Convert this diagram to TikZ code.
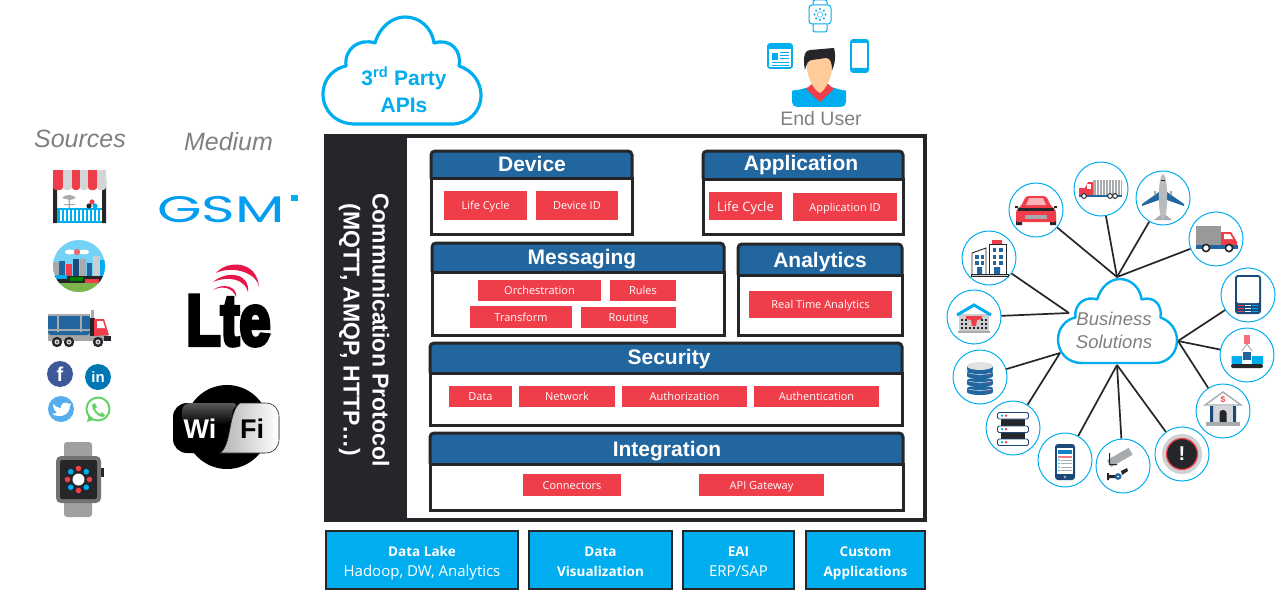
\documentclass[tikz,border=0pt]{standalone}
\usepackage{fontspec}
\setmainfont{Liberation Sans}
\newfontfamily\osans{Open Sans}
\newfontfamily\popp{Poppins}
\definecolor{cy}{HTML}{00AEEF}
\definecolor{fr}{HTML}{25262A}
\definecolor{hb}{HTML}{22669F}
\definecolor{rd}{HTML}{EF3E4A}
\definecolor{nv}{HTML}{1B4A7A}
\definecolor{gt}{HTML}{808080}
\definecolor{lg}{HTML}{A8ABAE}
\definecolor{fbc}{HTML}{3B5998}
\definecolor{lic}{HTML}{0077B5}
\definecolor{twc}{HTML}{55ACEE}
\definecolor{wac}{HTML}{67D26B}
\definecolor{grc}{HTML}{7DB548}
\definecolor{ltr}{HTML}{E8174A}
\newcommand\fs[1]{\fontsize{#1}{#1}\selectfont}
\tikzset{
 panelline/.style={draw=fr,line width=3pt},
 headtext/.style={text=white,font=\fs{21}\bfseries,inner sep=0,text height=15pt,text depth=0pt},
 redbox/.style={fill=rd,text=white,inner sep=0,font=\osans\fs{11},text height=8pt,text depth=0pt},
 botbox/.style={fill=cy,draw=fr,line width=2.5pt,text=white,align=center,inner sep=0,font=\osans\fontsize{15}{20}\selectfont},
 bizc/.style={circle,draw=cy,fill=white,line width=1pt,minimum size=54pt,inner sep=0},
 spoke/.style={draw=fr,line width=1.7pt},
 cloudl/.style={draw=cy,fill=white,line join=round},
 gtext/.style={text=gt,inner sep=0},
}
% name x1 y1 x2 y2 ysplit title textx texty
\newcommand\panel[9]{%
 \fill[white] (#2,#3) rectangle (#4,#5);
 \fill[hb,rounded corners=4pt] (#2,#6) -- (#2,#3) -- (#4,#3) -- (#4,#6) -- cycle;
 \fill[hb] (#2,{#6-6}) rectangle (#4,#6);
 \draw[panelline,rounded corners=4pt] (#2,#6) -- (#2,#3) -- (#4,#3) -- (#4,#6);
 \draw[panelline] (#2,#6) -- (#2,#5) -- (#4,#5) -- (#4,#6) -- cycle;
 \node[headtext] (#1) at (#8,#9) {#7};}
\newcommand\rbox[7][]{%
 \node[redbox,#1,minimum width={(#5-#3)*1pt},minimum height={(#6-#4)*1pt}] (#2) at ({(#3+#5)/2},{(#4+#6)/2}) {#7};}
\newcommand\bbox[6]{%
 \node[botbox,minimum width={(#4-#2)*1pt},minimum height={(#5-#3)*1pt}] (#1) at ({(#2+#4)/2},{(#3+#5)/2}) {#6};}
\newcommand\bt[1]{\rule{0pt}{17pt}{\fontsize{13.5}{20}\selectfont\bfseries #1}}
\newcommand\bb[1]{#1\rule[-5pt]{0pt}{5pt}}
\newcommand\cloudp{(355,124) .. controls (335,124) and (323,110) .. (323,94)
 .. controls (323,78) and (335,68) .. (346,66)
 .. controls (344,48) and (360,38) .. (375,43)
 .. controls (380,26) and (393,17) .. (405,17)
 .. controls (420,17) and (432,28) .. (434,43)
 .. controls (450,38) and (462,50) .. (459,66)
 .. controls (472,70) and (481,82) .. (481,95)
 .. controls (481,112) and (468,124) .. (452,124) -- cycle}
\begin{document}
\begin{tikzpicture}[x=1pt,y=-1pt]
\useasboundingbox (0,0) rectangle (1276,591);
\fill[white] (0,0) rectangle (1276,591);
%% titles
\node[gtext,font=\itshape\fs{25}] (srct) at (80,139) {Sources};
\node[gtext,font=\itshape\fs{25}] (medt) at (228.5,142) {Medium};
%% shop
\fill[fr] (53,178) rectangle (57,223) (102,178) rectangle (106,223);
\fill[cy] (57,208) rectangle (102,223);
\foreach \x in {60,64,...,100}{\fill[white] (\x,210) rectangle (\x+1.6,221);}
\foreach \a/\b/\c in {53/63/rd,63/72/lg!50,72/80/rd,80/88/lg!50,88/97/rd,97/106/lg!50}{
 \fill[\c,rounded corners=3pt] (\a,170) rectangle (\b,190);\fill[\c] (\a,170) rectangle (\b,178);}
\fill[lg] (62,198) .. controls (65,194) and (73,194) .. (76,198) -- (70,200) -- cycle;
\fill[lg] (68.5,200) rectangle (70,208) (64,204) rectangle (75,205);
\fill[rd] (92,202) circle (2.6);\fill[fr] (89,206) circle (2.6);\fill[cy] (95,206) circle (2.6);
%% city
\begin{scope}
\clip (79,266) circle (26);
\fill[cy!55] (53,240) rectangle (106,292);
\fill[white] (70,252) ellipse (5 and 2.5) (84,252) ellipse (5 and 2.5);
\fill[rd!80] (77,252) circle (3);
\foreach \a/\b/\t/\c in {53/59/262/lg,59/65/261/hb,66/72/264/rd,73/79/259/nv,80/86/259/lg,87/92/263/hb,93/100/256/lg!60,100/106/260/cy}{\fill[\c] (\a,\t) rectangle (\b,276);}
\fill[fr] (53,276) rectangle (106,284);
\fill[grc] (53,283) rectangle (106,293);
\fill[cy] (56,275) rectangle (67,279);\fill[green!50!black] (70,277) rectangle (83,281);\fill[rd] (85,279) rectangle (99,283);
\end{scope}
%% source truck
\fill[gray!70] (48,333) rectangle (108,341);
\fill[hb,rounded corners=3pt] (48,314) rectangle (90,335);
\draw[lg,line width=1.4pt] (48,315) -- (90,315) (48,330) -- (90,330) (58,314) -- (58,332) (81,314) -- (81,332);
\fill[fr] (90,318) rectangle (95,336);
\fill[rd] (94,319) -- (104,319) -- (109,335) -- (94,336) -- cycle;
\fill[white] (97,321) -- (103,321) -- (105,328) -- (97,328) -- cycle;
\fill[lg] (91,310) rectangle (93.5,318);
\fill[fr] (104,336) rectangle (111,341);
\foreach \x in {57,69,98}{\fill[fr] (\x,342) circle (5.2);\fill[lg!50] (\x,342) circle (2.6);\fill[fr] (\x,342) circle (1);}
%% social
\node[circle,fill=fbc,minimum size=26pt,inner sep=0,text=white,font=\bfseries\fs{20}] (fb) at (60,374) {f};
\node[circle,fill=lic,minimum size=26pt,inner sep=0,text=white,font=\bfseries\fs{15}] (li) at (98,377) {in};
\node[circle,fill=twc,minimum size=26pt,inner sep=0] (tw) at (61,409) {};
\fill[white] (53,404) .. controls (56,407) and (59,408) .. (61,408) .. controls (60,403) and (66,401) .. (69,404) -- (71,403) -- (70,406) .. controls (70,412) and (65,417) .. (58,416) .. controls (56,416) and (54,415) .. (52,414) .. controls (54,414) and (56,413) .. (57,412) .. controls (54,411) and (53,407) .. (53,404) -- cycle;
\node[circle,draw=wac,fill=white,line width=2pt,minimum size=23pt,inner sep=0] (wa) at (98,409) {};
\fill[wac] (87,422) -- (89,414) -- (93,420) -- cycle;
\fill[wac] (92,405) -- (95,403) -- (97,407) -- (95,409) .. controls (96,411) and (98,413) .. (100,414) -- (102,412) -- (105,415) -- (103,417) .. controls (98,417) and (92,411) .. (92,405) -- cycle;
%% watch
\fill[gray!75,rounded corners=3pt] (64,442) rectangle (92,517);
\fill[fr] (100,468) rectangle (104,477);
\fill[gray!90!black,rounded corners=5pt] (56,456) rectangle (101,503);
\fill[fr,rounded corners=2pt] (60,460) rectangle (97,499);
\foreach \a/\c in {0/rd,45/cy,90/rd,135/cy,180/rd,225/cy,270/rd,315/cy}{\fill[\c] (78.5,479.5) ++(\a:11) circle (2.8);}
\fill[white] (78.5,479.5) circle (6);
%% GSM
\node[text=cy!90!blue,inner sep=0] (gsm) at (221,210) {\scalebox{1.55}[1]{\popp\fs{37}GSM}};
\fill[cy] (291,195) rectangle (298,201);
%% LTE
\fill[ltr] (216,273) .. controls (227,260) and (257,260) .. (259,287) .. controls (257,273) and (233,265) .. (216,273) -- cycle;
\fill[ltr] (213,282) .. controls (227,270) and (250,273) .. (248,292) .. controls (245,280) and (230,275) .. (213,282) -- cycle;
\fill[ltr] (213,290) .. controls (223,282) and (238,287) .. (236,297) .. controls (233,288) and (223,285) .. (213,290) -- cycle;
\node[inner sep=0,anchor=base] (lte) at (228.5,345) {\scalebox{0.78}[1]{\fontspec{Liberation Sans}[FakeBold=6]\fs{72}\bfseries Lte}};
%% WiFi
\fill[black] (227,427) circle (42);
\fill[black,rounded corners=14pt] (173,403) rectangle (279,453);
\shade[top color=black!65,bottom color=black,rounded corners=8pt] (182,403) -- (240,403) .. controls (232,410) and (232,418) .. (230,425) -- (182,425) -- cycle;
\shade[left color=gray!60,right color=white,draw=fr,line width=.6pt] (240,403) -- (265,403) .. controls (274,403) and (279,409) .. (279,417) -- (279,439) .. controls (279,447) and (274,453) .. (265,453) -- (220,453) .. controls (232,445) and (228,412) .. (240,403) -- cycle;
\node[text=white,inner sep=0,font=\bfseries\fs{27}] (wi) at (200,429) {Wi};
\node[text=black,inner sep=0,font=\bfseries\fs{27}] (fi) at (252,429) {Fi};
%% 3rd party cloud
\draw[cloudl,line width=3.2pt] \cloudp;
\node[text=cy,align=center,inner sep=0,font=\bfseries\fontsize{21}{27}\selectfont] (api) at (404,90) {3\textsuperscript{rd} Party\\APIs};
%% end user
\begin{scope}
\draw[cy,line width=1pt,rounded corners=2pt,fill=white] (813,0) rectangle (827,32);
\draw[cy,line width=1pt,rounded corners=3pt,fill=white] (809,5) rectangle (831,24);
\foreach \a in {0,45,...,315}{\fill[cy] (820,14.5) ++(\a:5.5) circle (1.2);}
\draw[cy] (820,14.5) circle (2.8);
\draw[cy,line width=1.6pt,rounded corners=2pt] (768,44) rectangle (792,68);
\fill[cy] (768,44) rectangle (792,49);
\fill[cy] (772,53) rectangle (778,60);
\draw[cy,line width=1pt] (780,53) -- (789,53) (780,56) -- (789,56) (780,59) -- (789,59) (772,63) -- (789,63) (772,65.5) -- (789,65.5);
\draw[cy,line width=1.6pt,rounded corners=2pt] (851,40) rectangle (868,72);
\fill[cy] (851,40) rectangle (868,43) (851,68) rectangle (868,72);
\end{scope}
\fill[cy,rounded corners=5pt] (792,107) -- (792,96) .. controls (792,90) and (800,90) .. (807,87) -- (833,87) .. controls (840,90) and (846,90) .. (846,96) -- (846,107) -- cycle;
\fill[rd] (806,89) -- (812,84) -- (828,84) -- (834,89) -- (820,102) -- cycle;
\fill[orange!40!white] (806,60) .. controls (806,50) and (833,50) .. (833,60) .. controls (833,75) and (826,90) .. (820,93) .. controls (813,90) and (806,75) .. (806,60) -- cycle;
\fill[fr] (805,70) .. controls (802,55) and (806,50) .. (810,50) -- (834,48) .. controls (836,55) and (835,65) .. (832,70) .. controls (832,62) and (830,58) .. (826,58) -- (812,60) .. controls (808,60) and (806,65) .. (805,70) -- cycle;
\node[gtext,font=\fs{19.5}] (eu) at (821,119) {End User};
%% main frame
\fill[fr] (324,134) rectangle (927,522);
\fill[white] (407,138) rectangle (923,518);
\node[rotate=-90,text=white,align=center,inner sep=0,font=\bfseries\fontsize{23}{29}\selectfont] (cp) at (364,330) {Communication Protocol\\(MQTT, AMQP, HTTP…)};
\panel{dev}{431}{151}{632}{234}{178}{Device}{532}{164}
\rbox{dl}{444}{191}{527}{220}{Life Cycle}
\rbox{di}{536}{191}{618}{220}{Device ID}
\panel{app}{703}{151}{903}{234}{179}{Application}{801}{163}
\rbox[font=\osans\fs{13},text height=10pt]{al}{709}{192}{782}{220}{Life Cycle}
\rbox{ai}{793}{193}{897}{221}{Application ID}
\panel{msg}{432}{243}{724}{335}{272}{Messaging}{582}{257}
\rbox{or}{478}{280}{601}{301}{Orchestration}
\rbox{ru}{610}{280}{676}{301}{Rules}
\rbox{tr}{470}{306}{572}{328}{Transform}
\rbox{ro}{581}{307}{676}{328}{Routing}
\panel{ana}{738}{244}{902}{335}{275}{Analytics}{820}{260}
\rbox{rt}{749}{291}{892}{318}{Real Time Analytics}
\panel{sec}{430}{343}{902}{425}{373}{Security}{669}{357}
\rbox{sd}{449}{386}{512}{407}{Data}
\rbox{sn}{519}{386}{615}{407}{Network}
\rbox{sa}{622}{386}{747}{407}{Authorization}
\rbox{su}{754}{386}{879}{407}{Authentication}
\panel{int}{430}{433}{903}{510}{464}{Integration}{667}{449}
\rbox{ic}{523}{474}{621}{496}{Connectors}
\rbox{ia}{699}{474}{824}{496}{API Gateway}
%% bottom boxes
\bbox{b1}{326}{531}{518}{589}{\bt{Data Lake}\\\bb{Hadoop, DW, Analytics}}
\bbox{b2}{529}{531}{672}{589}{\bt{Data}\\\bb{\fontsize{13.5}{20}\selectfont\bfseries Visualization}}
\bbox{b3}{683}{531}{794}{589}{\bt{EAI}\\\bb{ERP/SAP}}
\bbox{b4}{806}{531}{925}{589}{\bt{Custom}\\\bb{\fontsize{13.5}{20}\selectfont\bfseries Applications}}
%% business solutions
\coordinate (ht) at (1117,277);
\coordinate (hb1) at (1117,365);
\coordinate (hl) at (1069,313);
\coordinate (hl2) at (1060,353);
\coordinate (hr) at (1178,341);
\foreach \n/\x/\y in {c1/1036/210,c2/1101/189,c3/1163/198,c4/1216/239,c5/1248/295,c6/1247/355,c7/1223/411,c8/1182/454,c9/1123/466,c10/1065/460,c11/1013/428,c12/980/377,c13/974/317,c14/989/258}{
 \node[bizc] (\n) at (\x,\y) {};}
\foreach \n in {c1,c2,c3,c4}{\draw[spoke] (\n) -- (ht);}
\foreach \n in {c13,c14}{\draw[spoke] (\n) -- (hl);}
\foreach \n in {c11,c12}{\draw[spoke] (\n) -- (hl2);}
\foreach \n in {c8,c9,c10}{\draw[spoke] (\n) -- (hb1);}
\foreach \n in {c5,c6,c7}{\draw[spoke] (\n) -- (hr);}
\begin{scope}[shift={(814.8,265.7)},xscale=.753,yscale=.785]
\draw[cloudl,line width=2.4pt] \cloudp;
\end{scope}
\node[text=gt,align=center,inner sep=0,font=\itshape\fontsize{18.5}{23}\selectfont] (bs) at (1114,330) {Business\\Solutions};
%% car
\begin{scope}[shift={(1036,210)}]
\fill[fr] (-20,10) rectangle (-14,15) (14,10) rectangle (20,15);
\fill[rd,rounded corners=2pt] (-15,-4) -- (-10,-14) -- (10,-14) -- (15,-4) -- (20,0) -- (20,12) -- (-20,12) -- (-20,0) -- cycle;
\fill[rd!40!white] (-10,-5) -- (-7,-12) -- (7,-12) -- (10,-5) -- cycle;
\fill[fr] (-18,-2) rectangle (18,1);
\fill[fr] (-21,-4) rectangle (-18,-2) (18,-4) rectangle (21,-2);
\fill[lg] (-11,5) rectangle (11,9);
\end{scope}
%% truck 2
\begin{scope}[shift={(1101,189)}]
\fill[lg] (-8,-9) rectangle (21,6);
\foreach \x in {-5,-2,...,19}{\draw[white,line width=.5pt] (\x,-9) -- (\x,6);}
\fill[rd] (-22,6) -- (-22,-1) -- (-16,-1) -- (-13,-7) -- (-8,-7) -- (-8,6) -- cycle;
\fill[white] (-14,-5) rectangle (-10,0);
\fill[hb] (-22,6) rectangle (21,8);
\foreach \x in {-17,9,14}{\fill[white,draw=fr,line width=1pt] (\x,7) circle (2.4);}
\end{scope}
%% plane
\begin{scope}[shift={(1163,198)}]
\fill[hb] (-4,-6) -- (-21,6) -- (-21,8) -- (-4,2) -- cycle (4,-6) -- (21,6) -- (21,8) -- (4,2) -- cycle;
\fill[lg] (-9,22) -- (0,15) -- (9,22) -- cycle;
\fill[lg!80] (0,-1) ellipse (4.2 and 23);
\fill[lg] (-9,-7) rectangle (-7,-3) (7,-7) rectangle (9,-3);
\fill[fr] (-2,-18) rectangle (2,-17);
\end{scope}
%% van
\begin{scope}[shift={(1216,239)}]
\fill[gray!80] (-20,-13) rectangle (5,8);
\fill[rd] (5,-7) -- (15,-7) -- (21,3) -- (21,8) -- (5,8) -- cycle;
\fill[white] (8,-5) -- (14,-5) -- (17,0) -- (8,0) -- cycle;
\fill[hb] (-20,6) rectangle (22,10);
\foreach \x in {-10,13}{\fill[white,draw=fr,line width=1.6pt] (\x,9) circle (3.6);}
\end{scope}
%% handset
\begin{scope}[shift={(1248,295)}]
\fill[nv,rounded corners=3pt] (-13,-20) rectangle (13,19);
\fill[white,rounded corners=1pt] (-11,-18) rectangle (11,8);
\foreach \y in {10,13,16}{\fill[rd] (-10,\y) rectangle (-4,\y+1.4);\fill[white] (-3,\y) rectangle (3,\y+1.4);\fill[cy] (4,\y) rectangle (10,\y+1.4);}
\end{scope}
%% robot belt
\begin{scope}[shift={(1247,355)}]
\fill[rd!75] (-3,-20) rectangle (3,-11);
\draw[lg,line width=1pt] (0,-11) -- (-5,-4) (0,-11) -- (5,-4);
\fill[cy] (-15.5,1) rectangle (-5,9) (5,1) rectangle (16,9);
\fill[hb] (-4,-3) rectangle (4,5);
\fill[fr,rounded corners=2pt] (-16,9) rectangle (16,13);
\end{scope}
%% bank
\begin{scope}[shift={(1223,411)}]
\fill[white,draw=lg,line width=1.4pt] (-18,-6) -- (0,-19) -- (18,-6) -- cycle;
\fill[lg!50] (-13,-5) rectangle (13,11);
\fill[nv] (-13,-5) rectangle (-10,11) (10,-5) rectangle (13,11);
\fill[fr] (-3.5,11) -- (-3.5,2) .. controls (-3.5,-2) and (3.5,-2) .. (3.5,2) -- (3.5,11) -- cycle;
\fill[lg] (-17,11) rectangle (17,15);
\node[text=rd,inner sep=0,font=\bfseries\fs{8.5}] (dollar) at (0,-11.5) {\$};
\end{scope}
%% alert
\begin{scope}[shift={(1182,454)}]
\fill[lg!55] (0,0) circle (20);\fill[fr,draw=rd,line width=1.2pt] (0,0) circle (15.5);
\node[text=white,inner sep=0,font=\bfseries\fs{20}] (excl) at (0,0) {!};
\end{scope}
%% camera
\begin{scope}[shift={(1123,466)}]
\fill[lg,rotate=30] (-11,-13) rectangle (14,-5);
\fill[fr] (-14,-13) rectangle (-13,-1) (-14,-2) rectangle (-6,-1);
\fill[fr] (-16,9) rectangle (-2,12) (-16,7) rectangle (-14,14);
\fill[fr] (-2,5) -- (4,2) -- (5,5) -- (-1,9) -- cycle;
\fill[hb] (-5,10.5) circle (3.4);\fill[white] (-5,10.5) circle (1);
\end{scope}
%% mobile
\begin{scope}[shift={(1065,460)}]
\fill[nv,rounded corners=3pt] (-10,-16) rectangle (10,20);
\fill[white] (-8,-12) rectangle (8,14);
\fill[hb!60!cy] (-7,-10) rectangle (7,-6);
\fill[rd!70] (-7,-4) rectangle (7,-2.5);
\foreach \y in {0,3.5,7,10.5}{\draw[lg,line width=.7pt] (-4,\y) -- (7,\y);\fill[cy] (-6,\y) circle (.9);}
\fill[lg] (0,17) circle (1.4);
\end{scope}
%% servers
\begin{scope}[shift={(1013,428)}]
\fill[fr] (-12,-9) rectangle (12,12);
\foreach \y in {-15.5,-2,11}{\fill[white,draw=nv,line width=.8pt,rounded corners=1.5pt] (-15.5,\y) rectangle (15.5,{\y+6.5});
 \fill[cy] (-11,{\y+3.2}) circle (1.3);\fill[rd] (-7,{\y+3.2}) circle (1.3);}
\end{scope}
%% database
\begin{scope}[shift={(980,377)}]
\foreach \y in {11,3,-5}{\fill[hb] (-13,\y) rectangle (13,\y+4);\fill[hb] (0,\y+4) ellipse (13 and 3);\fill[white] (0,\y) ellipse (13 and 2.6);\fill[hb] (0,\y) ellipse (13 and 2);\fill[rd] (8,\y+3) circle (.9);}
\fill[hb] (-13,-11) rectangle (13,-8);\fill[hb] (0,-7) ellipse (13 and 3);
\fill[lg!35] (0,-11) ellipse (13 and 4);
\end{scope}
%% warehouse
\begin{scope}[shift={(974,317)}]
\fill[lg!60] (-15,-3) rectangle (15,15);
\fill[lg] (-16,14) rectangle (16,16);
\draw[cy,line width=3pt] (-17,-2) -- (0,-12) -- (17,-2);
\foreach \x in {-12,-8,8,12}{\foreach \y in {3,7,11}{\fill[fr] (\x-1.2,\y-1.2) rectangle (\x+1.2,\y+1.2);}}
\foreach \x in {-4,0,4}{\fill[fr] (\x-1.2,10) rectangle (\x+1.2,12.4);}
\fill[rd] (-8,-1) -- (8,-1) -- (8,2) -- (3,3) -- (2,9) -- (-2,9) -- (-3,3) -- (-8,2) -- cycle;
\end{scope}
%% building
\begin{scope}[shift={(989,258)}]
\fill[white,draw=fr,line width=.9pt] (-17,-5) -- (-3,-10) -- (-3,17) -- (-17,17) -- cycle;
\fill[white,draw=fr,line width=.9pt] (0,-14) rectangle (17,17);
\fill[rd] (3,-18) rectangle (13,-14);
\foreach \x in {-14,-8.5,3.5,10}{\foreach \y in {-3,3}{\fill[hb] (\x,\y) rectangle (\x+3.8,\y+3.8);}}
\foreach \y in {-10}{\fill[hb] (3.5,\y) rectangle (7.3,\y+3.8);\fill[hb] (10,\y) rectangle (13.8,\y+3.8);}
\fill[hb] (-12,9) rectangle (-7,16) (5,9) rectangle (11,16);
\fill[lg!60,draw=fr,line width=.7pt] (-18,16) rectangle (19,18.5);
\end{scope}
\end{tikzpicture}
\end{document}
